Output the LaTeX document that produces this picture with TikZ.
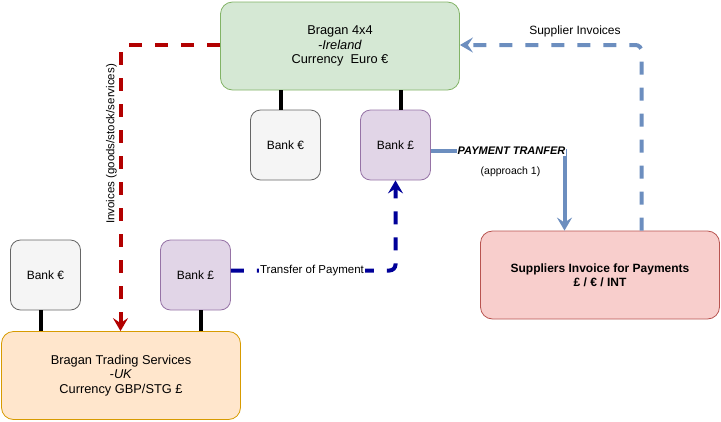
\documentclass[tikz,border=0pt]{standalone}
\usepackage{fontspec}
\setmainfont{Liberation Sans}
\usetikzlibrary{arrows.meta,positioning}

\definecolor{irefill}{HTML}{D5E8D4}
\definecolor{iredraw}{HTML}{82B366}
\definecolor{ukfill}{HTML}{FFE6CC}
\definecolor{ukdraw}{HTML}{D79B00}
\definecolor{eurfill}{HTML}{F5F5F5}
\definecolor{eurdraw}{HTML}{666666}
\definecolor{gbpfill}{HTML}{E1D5E7}
\definecolor{gbpdraw}{HTML}{9673A6}
\definecolor{supfill}{HTML}{F8CECC}
\definecolor{supdraw}{HTML}{B85450}
\definecolor{invred}{HTML}{B20000}
\definecolor{paynavy}{HTML}{000099}
\definecolor{steel}{HTML}{6C8EBF}

\begin{document}
\begin{tikzpicture}[x=1pt, y=-1pt,
    box/.style={draw, rounded corners=12pt, line width=0.8pt, align=center, inner sep=0pt,
                minimum width=239pt, minimum height=88pt, font=\fontsize{12.8}{14.5}\selectfont},
    bank/.style={box, rounded corners=10pt, minimum width=70pt, minimum height=70pt,
                font=\fontsize{12}{14.4}\selectfont},
    link/.style={line width=4pt},
    flow/.style={line width=4pt, dash pattern=on 13pt off 13pt, rounded corners=6pt},
    tip/.style={-{Stealth[length=13pt, width=15pt, inset=5pt]}},
    lbl/.style={font=\fontsize{11.5}{13}\selectfont, inner sep=1pt}]
    \useasboundingbox (0,0) rectangle (721,421);

    % Company nodes
    \node[box, fill=irefill, draw=iredraw] (ireland) at (340,46)
        {Bragan 4x4\\\textit{-Ireland}\\Currency~~Euro €};
    \node[box, fill=ukfill, draw=ukdraw] (uk) at (121,375.5)
        {Bragan Trading Services\\\textit{-UK}\\Currency GBP/STG £};
    \node[box, fill=supfill, draw=supdraw, font=\fontsize{12}{14.4}\selectfont\bfseries] (supplier) at (600,275)
        {Suppliers Invoice for Payments\\£ / € / INT};

    % Bank nodes
    \node[bank, fill=eurfill, draw=eurdraw] (ieeur) at (285.5,145) {Bank €};
    \node[bank, fill=gbpfill, draw=gbpdraw] (iegbp) at (395.5,145) {Bank £};
    \node[bank, fill=eurfill, draw=eurdraw] (ukeur) at (45.5,275) {Bank €};
    \node[bank, fill=gbpfill, draw=gbpdraw] (ukgbp) at (195.5,275) {Bank £};

    % Bank links
    \draw[link] ([xshift=-5pt]ieeur.north) -- ([xshift=-5pt]ieeur.north |- ireland.south);
    \draw[link] ([xshift=5pt]iegbp.north) -- ([xshift=5pt]iegbp.north |- ireland.south);
    \draw[link] ([xshift=-5pt]ukeur.south) -- ([xshift=-5pt]ukeur.south |- uk.north);
    \draw[link] ([xshift=5pt]ukgbp.south) -- ([xshift=5pt]ukgbp.south |- uk.north);

    % Invoices to the UK
    \coordinate (invturn) at (120.5,45);
    \draw[flow, tip, invred] (ireland.west |- invturn) -- (invturn) -- (invturn |- uk.north);
    \node[lbl, rotate=90] (invlbl) at (111.5,144) {Invoices (goods/stock/services)};

    % Transfer of payment
    \coordinate (payturn) at (395.5,270.5);
    \draw[flow, tip, paynavy] (ukgbp.east |- payturn) -- (payturn) -- (iegbp.south);
    \node[lbl, fill=white] (paylbl) at (312,271) {Transfer of Payment};

    % Supplier invoices
    \coordinate (supturn) at (641.5,45);
    \draw[flow, tip, steel] (supturn |- supplier.north) -- (supturn) -- (ireland.east |- supturn);
    \node[lbl, font=\fontsize{12}{14}\selectfont] (suplbl) at (575,31) {Supplier Invoices};

    % Payment transfer
    \coordinate (ptturn) at (564.5,150.5);
    \draw[link, tip, steel] (iegbp.east |- ptturn) -- (ptturn) -- (ptturn |- supplier.north);
    \node[lbl, fill=white, font=\fontsize{11}{12}\selectfont\bfseries\itshape] (ptlbl) at (511.5,151) {PAYMENT TRANFER};
    \node[lbl, font=\fontsize{10.5}{12}\selectfont] (aplbl) at (510.5,171.5) {(approach 1)};
\end{tikzpicture}
\end{document}
